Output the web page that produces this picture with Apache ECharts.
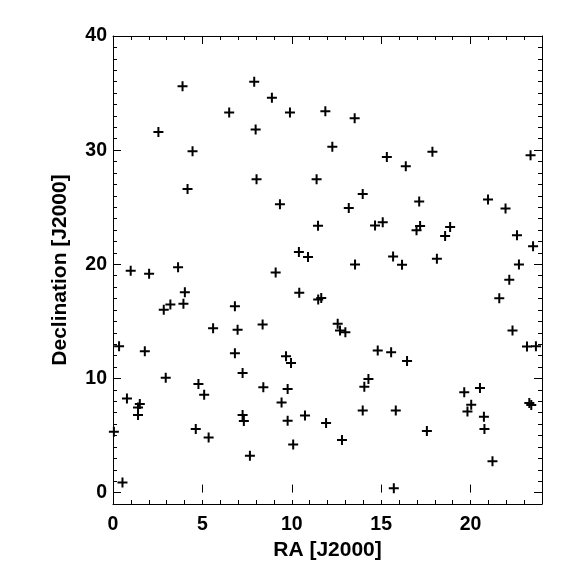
<!DOCTYPE html>
<html>
<head>
<meta charset="utf-8">
<script src="https://cdn.jsdelivr.net/npm/echarts@6/dist/echarts.min.js"></script>
<style>
  html, body { margin: 0; padding: 0; background: #fff; }
  #chart { width: 576px; height: 576px; }
</style>
</head>
<body>
<div id="chart"></div>
<script>
// positions
const raValues = [
  3.89, 7.90, 8.89, 6.50, 9.90, 11.88, 2.54, 7.98, 4.45, 8.03,
  11.39, 4.17, 12.27, 13.52, 15.32, 16.38, 17.87, 23.36, 13.97, 9.34,
  11.47, 0.99, 2.02, 3.64, 10.40, 10.91, 9.10, 4.02, 2.84, 3.21,
  3.94, 10.42, 11.48, 11.65, 6.82, 5.60, 6.97, 8.37, 0.34, 1.78,
  6.82, 9.68, 17.13, 20.98, 21.96, 13.19, 14.66, 15.09, 16.98, 17.18,
  18.58, 18.86, 22.60, 23.50, 13.54, 15.67, 16.17, 18.12, 22.71, 22.17,
  21.61, 12.57, 12.70, 13.00, 22.35, 14.81, 15.56, 23.16, 23.66, 9.96,
  7.25, 2.95, 4.78, 5.10, 8.41, 9.77, 9.43, 0.78, 1.50, 1.40,
  1.40, 7.25, 7.32, 9.77, 10.74, 11.92, 4.63, 5.35, 10.08, 7.66,
  0.53, 0.05, 16.45, 14.29, 14.06, 19.65, 20.53, 20.04, 19.83, 23.29,
  23.40, 13.97, 15.82, 20.75, 20.78, 12.81, 17.56, 21.23, 15.71
];
const decValues = [
  35.6, 36.0, 34.6, 33.3, 33.3, 33.4, 31.6, 31.8, 29.9, 27.45,
  27.45, 26.6, 30.3, 32.8, 29.4, 28.6, 29.85, 29.56, 26.15, 25.26,
  23.37, 19.44, 19.17, 19.75, 21.07, 20.63, 19.29, 17.56, 16.01, 16.48,
  16.54, 17.51, 16.92, 17.05, 16.33, 14.4, 14.26, 14.72, 12.82, 12.38,
  12.2, 11.95, 25.5, 25.67, 24.88, 24.93, 23.39, 23.68, 22.98, 23.36,
  22.48, 23.27, 22.54, 21.57, 19.99, 20.69, 19.96, 20.49, 19.99, 18.65,
  17.03, 14.8, 14.2, 14.05, 14.2, 12.44, 12.29, 12.79, 12.82, 11.36,
  10.48, 10.07, 9.51, 8.58, 9.22, 9.08, 7.9, 8.25, 7.76, 7.46,
  6.8, 6.8, 6.27, 6.3, 6.76, 6.1, 5.57, 4.83, 4.21, 3.22,
  0.88, 5.33, 11.53, 9.95, 9.28, 8.78, 9.16, 7.7, 7.11, 7.85,
  7.67, 7.2, 7.2, 6.65, 5.57, 4.6, 5.39, 2.75, 0.39
];

const xTickLabels = [0, 5, 10, 15, 20];
const yTickLabels = [0, 10, 20, 30, 40];

const FONT = 'Liberation Sans';
const PLUS = 'path://M4,0H6V4H10V6H6V10H4V6H0V4H4Z';

// frame geometry
const G = { left: 113, right: 34, top: 36, bottom: 72 };
const Y_MIN = -1, Y_MAX = 40;
const pxPerDec = (576 - G.top - G.bottom) / (Y_MAX - Y_MIN);
// grid whose bottom edge sits at Dec = 0, used for the major y ticks
const zeroBottom = G.bottom + (0 - Y_MIN) * pxPerDec;

const labelStyle = { color: '#000', fontFamily: FONT, fontWeight: 'bold', fontSize: 19.5 };
const lineStyle = { color: '#000', width: 1 };

const minorX = (pos, withLabels) => ({
  gridIndex: 0, type: 'value', position: pos, min: 0, max: 24, interval: 1,
  axisLine: { show: true, onZero: false, lineStyle },
  axisTick: { show: true, inside: true, length: 4, lineStyle },
  axisLabel: withLabels ? {
    ...labelStyle, margin: 11, showMaxLabel: false,
    formatter: (v) => xTickLabels.includes(v) ? String(v) : ''
  } : { show: false },
  splitLine: { show: false }
});

const minorY = (pos, withLabels) => ({
  gridIndex: 0, type: 'value', position: pos, min: Y_MIN, max: Y_MAX, interval: 1,
  axisLine: { show: true, onZero: false, lineStyle },
  axisTick: { show: true, inside: true, length: 4, lineStyle },
  axisLabel: withLabels ? {
    ...labelStyle, margin: 6,
    formatter: (v) => yTickLabels.includes(v) ? String(v) : ''
  } : { show: false },
  splitLine: { show: false }
});

const majorX = (pos) => ({
  gridIndex: 1, type: 'value', position: pos, min: 0, max: 24, interval: 5,
  axisLine: { show: false },
  axisTick: { show: true, inside: true, length: 8, lineStyle },
  axisLabel: { show: false },
  splitLine: { show: false }
});

const majorY = (pos) => ({
  gridIndex: 2, type: 'value', position: pos, min: 0, max: 40, interval: 10,
  axisLine: { show: false },
  axisTick: { show: true, inside: true, length: 8, lineStyle },
  axisLabel: { show: false },
  splitLine: { show: false }
});

const hidden = (grid, min, max) => ({ gridIndex: grid, type: 'value', min, max, show: false });

const points = raValues.map((ra, i) => [ra, decValues[i]]);

const chart = echarts.init(document.getElementById('chart'), null, { renderer: 'canvas' });
chart.setOption({
  animation: false,
  backgroundColor: '#fff',
  grid: [
    { ...G },
    { ...G },
    { left: G.left, right: G.right, top: G.top, bottom: zeroBottom }
  ],
  xAxis: [
    {
      ...minorX('bottom', true),
      name: 'RA [J2000]', nameLocation: 'middle', nameGap: 36,
      nameTextStyle: { color: '#000', fontFamily: FONT, fontWeight: 'bold', fontSize: 21 }
    },
    minorX('top', false),
    majorX('bottom'),
    majorX('top'),
    hidden(2, 0, 24)
  ],
  yAxis: [
    {
      ...minorY('left', true),
      name: 'Declination [J2000]', nameLocation: 'middle', nameGap: 42, nameRotate: 90,
      nameTextStyle: { color: '#000', fontFamily: FONT, fontWeight: 'bold', fontSize: 21 }
    },
    minorY('right', false),
    hidden(1, Y_MIN, Y_MAX),
    majorY('left'),
    majorY('right')
  ],
  series: [
    {
      type: 'scatter',
      xAxisIndex: 0,
      yAxisIndex: 0,
      data: points,
      symbol: PLUS,
      symbolSize: 10,
      clip: true,
      itemStyle: { color: '#000', opacity: 1 },
      emphasis: { disabled: true }
    }
  ]
});
</script>
</body>
</html>
